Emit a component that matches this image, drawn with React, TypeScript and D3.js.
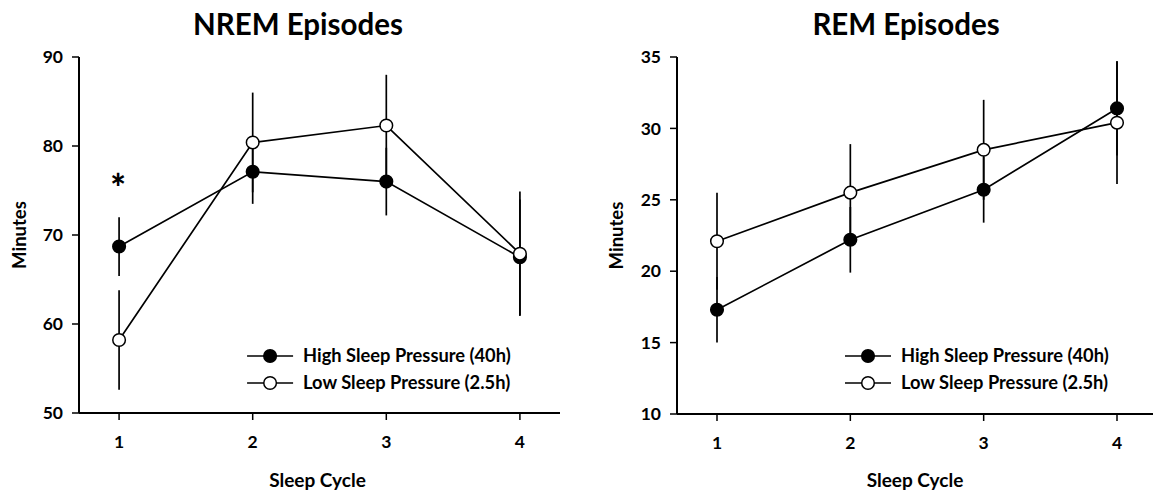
import React from 'react';
import * as d3 from 'd3';

// sleep cycle values on the x axis
const cycles = [1, 2, 3, 4];

// NREM episodes (minutes), mean and error
const nremHigh = [68.7, 77.1, 76.0, 67.5];
const nremHighErr = [3.3, 3.6, 3.8, 6.5];
const nremLow = [58.2, 80.4, 82.3, 67.9];
const nremLowErr = [5.6, 5.6, 5.7, 7.0];
const nremTicks = [50, 60, 70, 80, 90];

// REM episodes (minutes), mean and error
const remHigh = [17.3, 22.2, 25.7, 31.4];
const remHighErr = [2.3, 2.3, 2.3, 3.3];
const remLow = [22.1, 25.5, 28.5, 30.4];
const remLowErr = [3.4, 3.4, 3.5, 4.3];
const remTicks = [10, 15, 20, 25, 30, 35];

const legendLabels = ['High Sleep Pressure (40h)', 'Low Sleep Pressure (2.5h)'];

const FONT = 'Lato, "Open Sans", sans-serif';

interface PanelProps {
  title: string;
  left: number;
  right: number;
  top: number;
  bottom: number;
  ticks: number[];
  high: number[];
  highErr: number[];
  low: number[];
  lowErr: number[];
  titleX: number;
  yLabelX: number;
  star?: boolean;
}

const Panel: React.FC<PanelProps> = ({ title, left, right, top, bottom, ticks, high, highErr, low, lowErr, titleX, yLabelX, star }) => {
  const x = d3.scaleLinear().domain([0.7, 4.3]).range([left, right]);
  const y = d3.scaleLinear().domain([ticks[0], ticks[ticks.length - 1]]).range([bottom, top]);
  const line = d3
    .line<number>()
    .x((_, i) => x(cycles[i]))
    .y((d) => y(d));

  const series = [
    { vals: high, errs: highErr, fill: '#000' },
    { vals: low, errs: lowErr, fill: '#fff' },
  ];

  const legX = x(1) + 151;
  const legY = [356, 383];

  return (
    <g>
      <text x={titleX} y={35} textAnchor="middle" fontFamily={FONT} fontWeight={700} fontSize={29.5}>
        {title}
      </text>

      {/* axes */}
      <line x1={left} x2={left} y1={y.range()[1]} y2={bottom} stroke="#000" strokeWidth={2} />
      <line x1={left} x2={right} y1={bottom} y2={bottom} stroke="#000" strokeWidth={2} />
      {ticks.map((t) => (
        <g key={t}>
          <line x1={left - 7} x2={left} y1={y(t)} y2={y(t)} stroke="#000" strokeWidth={1.5} />
          <text x={left - 16} y={y(t)} dy="0.35em" textAnchor="end" fontFamily={FONT} fontWeight={700} fontSize={17.5}>
            {t}
          </text>
        </g>
      ))}
      {cycles.map((c) => (
        <g key={c}>
          <line x1={x(c)} x2={x(c)} y1={bottom} y2={bottom + 7} stroke="#000" strokeWidth={1.5} />
          <text x={x(c)} y={bottom + 29} dy="0.35em" textAnchor="middle" fontFamily={FONT} fontWeight={700} fontSize={17.5}>
            {c}
          </text>
        </g>
      ))}
      <text
        x={(left + right) / 2 - 2}
        y={480}
        dy="0.35em"
        textAnchor="middle"
        fontFamily={FONT}
        fontWeight={700}
        fontSize={19}
      >
        Sleep Cycle
      </text>
      <text
        transform={`translate(${yLabelX},${(top + bottom) / 2}) rotate(-90)`}
        dy="0.35em"
        textAnchor="middle"
        fontFamily={FONT}
        fontWeight={700}
        fontSize={18.5}
      >
        Minutes
      </text>

      {/* error bars */}
      {series.map((s, si) =>
        s.vals.map((v, i) => (
          <line
            key={`e${si}-${i}`}
            x1={x(cycles[i])}
            x2={x(cycles[i])}
            y1={y(v + s.errs[i])}
            y2={y(v - s.errs[i])}
            stroke="#000"
            strokeWidth={1.7}
          />
        )),
      )}

      {/* lines */}
      {series.map((s, si) => (
        <path key={`l${si}`} d={line(s.vals)!} fill="none" stroke="#000" strokeWidth={1.7} />
      ))}

      {/* markers */}
      {series.map((s, si) =>
        s.vals.map((v, i) => (
          <circle key={`m${si}-${i}`} cx={x(cycles[i])} cy={y(v)} r={6.3} fill={s.fill} stroke="#000" strokeWidth={1.5} />
        )),
      )}

      {star && (
        <text x={x(1) - 1} y={202} textAnchor="middle" fontFamily={FONT} fontWeight={900} fontSize={37}>
          *
        </text>
      )}

      {/* legend */}
      {series.map((s, si) => (
        <g key={`g${si}`}>
          <line x1={legX - 23} x2={legX + 23} y1={legY[si]} y2={legY[si]} stroke="#000" strokeWidth={1.7} />
          <circle cx={legX} cy={legY[si]} r={6.3} fill={s.fill} stroke="#000" strokeWidth={1.5} />
          <text x={legX + 33} y={legY[si]} dy="0.35em" fontFamily={FONT} fontWeight={700} fontSize={18.3}>
            {legendLabels[si]}
          </text>
        </g>
      ))}
    </g>
  );
};

export default function App() {
  return (
    <svg width={1153} height={494} style={{ position: 'absolute', left: 0, top: 0, background: '#fff' }}>
      <rect width={1153} height={494} fill="#fff" />
      <Panel
        title="NREM Episodes"
        left={79}
        right={560}
        top={57}
        bottom={413}
        ticks={nremTicks}
        high={nremHigh}
        highErr={nremHighErr}
        low={nremLow}
        lowErr={nremLowErr}
        titleX={298}
        yLabelX={20}
        star
      />
      <Panel
        title="REM Episodes"
        left={677}
        right={1157}
        top={57}
        bottom={414}
        ticks={remTicks}
        high={remHigh}
        highErr={remHighErr}
        low={remLow}
        lowErr={remLowErr}
        titleX={906}
        yLabelX={617}
      />
    </svg>
  );
}
